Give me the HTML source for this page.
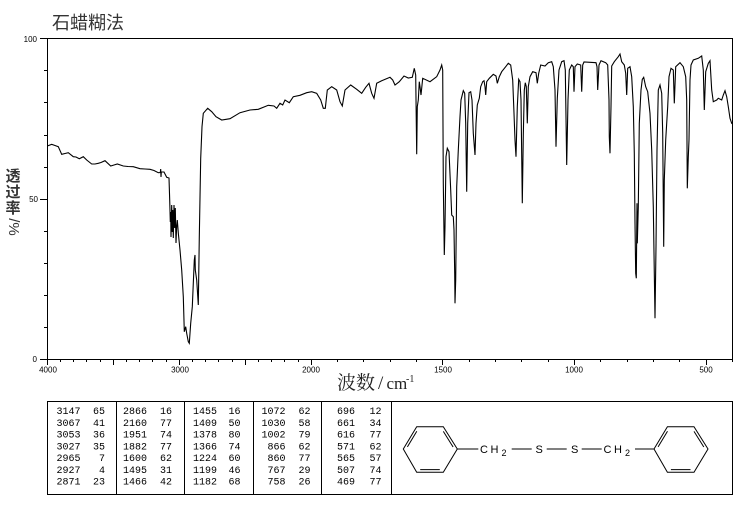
<!DOCTYPE html>
<html><head><meta charset="utf-8"><style>
html,body{margin:0;padding:0;background:#fff;}
body{position:relative;width:737px;height:510px;overflow:hidden;}
svg{display:block;position:absolute;left:0;top:0;}
.yt{position:absolute;left:4px;width:18px;height:16px;line-height:16px;text-align:center;font-family:"Noto Sans CJK SC","Liberation Sans",sans-serif;font-size:15px;font-weight:bold;color:#333;}
</style></head><body>
<svg width="737" height="510" viewBox="0 0 737 510" xmlns="http://www.w3.org/2000/svg">
<rect width="737" height="510" fill="#fff"/>
<text x="52" y="29" font-family="'Liberation Sans','Noto Sans CJK SC',sans-serif" font-size="18" fill="#333">石蜡糊法</text>

<rect x="47.5" y="38.5" width="685" height="321" fill="none" stroke="#000" stroke-width="1"/>

<g stroke="#000" stroke-width="1" shape-rendering="crispEdges">
<line x1="40" y1="38.5" x2="47.5" y2="38.5"/>
<line x1="44" y1="70.5" x2="47.5" y2="70.5"/>
<line x1="44" y1="102.5" x2="47.5" y2="102.5"/>
<line x1="44" y1="135.5" x2="47.5" y2="135.5"/>
<line x1="44" y1="167.5" x2="47.5" y2="167.5"/>
<line x1="40" y1="199.5" x2="47.5" y2="199.5"/>
<line x1="44" y1="231.5" x2="47.5" y2="231.5"/>
<line x1="44" y1="263.5" x2="47.5" y2="263.5"/>
<line x1="44" y1="295.5" x2="47.5" y2="295.5"/>
<line x1="44" y1="327.5" x2="47.5" y2="327.5"/>
<line x1="40" y1="359.5" x2="47.5" y2="359.5"/>
</g>
<g stroke="#000" stroke-width="1" shape-rendering="crispEdges">
<line x1="47.5" y1="359.5" x2="47.5" y2="365"/>
<line x1="60.5" y1="359.5" x2="60.5" y2="362"/>
<line x1="73.5" y1="359.5" x2="73.5" y2="362"/>
<line x1="86.5" y1="359.5" x2="86.5" y2="362"/>
<line x1="100.5" y1="359.5" x2="100.5" y2="362"/>
<line x1="113.5" y1="359.5" x2="113.5" y2="365"/>
<line x1="126.5" y1="359.5" x2="126.5" y2="362"/>
<line x1="139.5" y1="359.5" x2="139.5" y2="362"/>
<line x1="152.5" y1="359.5" x2="152.5" y2="362"/>
<line x1="166.5" y1="359.5" x2="166.5" y2="362"/>
<line x1="179.5" y1="359.5" x2="179.5" y2="365"/>
<line x1="192.5" y1="359.5" x2="192.5" y2="362"/>
<line x1="205.5" y1="359.5" x2="205.5" y2="362"/>
<line x1="218.5" y1="359.5" x2="218.5" y2="362"/>
<line x1="232.5" y1="359.5" x2="232.5" y2="362"/>
<line x1="245.5" y1="359.5" x2="245.5" y2="365"/>
<line x1="258.5" y1="359.5" x2="258.5" y2="362"/>
<line x1="271.5" y1="359.5" x2="271.5" y2="362"/>
<line x1="284.5" y1="359.5" x2="284.5" y2="362"/>
<line x1="298.5" y1="359.5" x2="298.5" y2="362"/>
<line x1="311.5" y1="359.5" x2="311.5" y2="365"/>
<line x1="337.5" y1="359.5" x2="337.5" y2="362"/>
<line x1="363.5" y1="359.5" x2="363.5" y2="362"/>
<line x1="390.5" y1="359.5" x2="390.5" y2="362"/>
<line x1="416.5" y1="359.5" x2="416.5" y2="362"/>
<line x1="442.5" y1="359.5" x2="442.5" y2="365"/>
<line x1="469.5" y1="359.5" x2="469.5" y2="362"/>
<line x1="495.5" y1="359.5" x2="495.5" y2="362"/>
<line x1="521.5" y1="359.5" x2="521.5" y2="362"/>
<line x1="548.5" y1="359.5" x2="548.5" y2="362"/>
<line x1="574.5" y1="359.5" x2="574.5" y2="365"/>
<line x1="600.5" y1="359.5" x2="600.5" y2="362"/>
<line x1="627.5" y1="359.5" x2="627.5" y2="362"/>
<line x1="653.5" y1="359.5" x2="653.5" y2="362"/>
<line x1="679.5" y1="359.5" x2="679.5" y2="362"/>
<line x1="706.5" y1="359.5" x2="706.5" y2="365"/>
<line x1="732.5" y1="359.5" x2="732.5" y2="362"/>
</g>

<g font-family="'Liberation Sans',sans-serif" font-size="8" fill="#000" text-anchor="end">
<text x="37" y="42">100</text>
<text x="38" y="202">50</text>
<text x="37" y="362">0</text>
</g>
<g font-family="'Liberation Sans',sans-serif" font-size="8" fill="#000" text-anchor="middle">
<text x="48" y="372.5">4000</text>
<text x="180" y="372.5">3000</text>
<text x="311" y="372.5">2000</text>
<text x="443" y="372.5">1500</text>
<text x="574" y="372.5">1000</text>
<text x="706" y="372.5">500</text>
</g>

<g fill="#222">
<text x="337" y="389" font-family="'Liberation Serif','Noto Serif CJK SC',serif" font-size="19">波数</text>
<text x="378" y="389" font-family="'Liberation Serif',serif" font-size="19">/</text>
<text x="386.5" y="389" font-family="'Liberation Serif',serif" font-size="17">cm</text>
<text x="406" y="382" font-family="'Liberation Serif',serif" font-size="10">-1</text>
</g>

<polyline fill="none" stroke="#000" stroke-width="1.1" stroke-linejoin="miter" points="47.3,146 51.7,144.3 55,145.5 58.3,146.7 61.7,154.3 65,153.5 68.3,152.7 73.3,156.7 76,157 79.3,158.7 83.3,156.7 86.7,160 91.7,164 95,164 98.3,163.3 101,162.5 105,160.7 110.7,166 114,165 117.3,164 123.3,166 128,166.5 133.3,166.7 140,168.7 145,169 150,169.3 154,170.5 158.3,172.7 160.3,172.5 160.7,169 161,177 161.3,172 164,172 166.7,177.3 169,178 169.7,200 170.3,222 170.7,212 171,237 171.7,205 172.3,232 172.7,210 173.3,238 174,205 174.7,228 175.3,208 176,243 176.7,226 177.3,220 178.3,233 180,250 181.7,270 183.3,296.7 184.3,331.7 185.7,326.7 186.7,333.3 188.3,341.7 189.3,343.3 190.7,323.3 192.3,306.7 193.3,283.3 194.3,260 195,255 195.3,270 196.7,280 198.3,305 199.3,236.7 200.7,158.3 202,126.7 203.3,113.3 207.7,108.3 211.7,111.7 216,116.7 221.7,120 230,118.7 240,112.7 250,110 258.3,109.3 268.3,105.3 274,106 276.7,108.3 280,103.3 282.7,105 285,100 289.3,102.7 293.3,96.7 300,95.3 306.7,92.7 311.7,91.7 316.7,93.3 320.7,100 323.3,108.3 325.3,108.3 327.3,90 331.7,86.7 336.7,90 340,101.7 342.3,106 345,90 350.7,85 356.7,89.3 361.7,93.3 365.7,87.3 369,83.3 371.7,93.3 374,98.3 376.7,83.3 381.7,80.7 390,77.3 392.7,80 395,85 399.3,81.7 404,76 408.3,78 412.3,77.3 414.3,68.3 415.7,75 416.7,154.3 417.3,106.7 418.3,100 419.3,81.7 420,86.7 421,95 422.7,78.3 430,81.7 436.7,76.7 440,70 441.7,65 442.7,70 443.3,183.3 444.3,255 445,226.7 446,156.7 447.3,148.3 449,151.7 450.7,190 451.7,215 453.3,216.7 454,230 454.7,273.3 455,303.3 455.7,280 456.7,186.7 458.3,150 460,116.7 461,100 463.3,90.7 464.7,93.3 465.7,123.3 466.7,191.7 467.7,123.3 469,92.7 470.7,91.7 472,100 473.3,133.3 475,155 476,123.3 477.3,105 479.3,98.3 480.7,86.7 482.7,81.7 484,80.7 485,86.7 485.7,95 486.7,81.7 489.3,78.3 493.3,74.3 496,76 497.3,83.3 499.3,76.7 501.7,71.7 505.7,66.7 508.3,63.3 510.7,65 512.7,80 514,113.3 515,140 516,156.7 517.3,106.7 518.7,79.3 520,81.7 521,100 522.3,203.3 523.3,135 524.3,90 525.3,82.7 526.3,86.7 527.3,123.3 528.3,86.7 530,76.7 532.7,71.7 536,72.7 537.3,83.3 538.7,73.3 540.7,65 545,66 548.3,62.7 551.7,61.7 553.3,66.7 555,90 556,146.7 557.3,98.3 559,70 561.7,61.7 564,60.7 565.3,70 566.7,165 568,100 569.3,70 571.7,65 573.3,66.7 574,91.7 575,66.7 577.3,64 580.7,65 581.7,91.7 582.7,65 584,62 596,62.7 597,66.7 597.7,90 599,65 601,60.7 605.7,62.7 607.7,65 609,100 609.3,136.7 610,153.3 611,106.7 611.7,66 614.3,61.7 618.3,56.7 620,54 621.7,61.7 624.3,65 625.7,73.3 626.7,95 627.7,68.3 630,66.7 631.7,76.7 633.3,106.7 634.3,153.3 635,223.3 635.7,273.3 636.3,278.3 637,203.3 637.3,243.3 638.3,206.7 639.3,123.3 641,90 642.3,79.3 643.7,77.3 645.7,86.7 647.7,91.7 650,113.3 651.7,150 653.3,206.7 654.3,273.3 655,318.3 656,246.7 657,150 658.3,90 660,85 661.7,93.3 662.7,133.3 663.7,246.7 664.3,180 665.7,140 667.7,106.7 669,76.7 671,68.3 673.3,70 674.3,103.3 675.7,66.7 680,62.7 683.3,66.7 685.7,76.7 686.7,100 687.3,188.3 688.3,156.7 689,140 690,80 691,65 693.3,60 698.3,58.3 701.7,56 703.3,70 704.3,110 705.7,71.7 708.3,63.3 710,60.7 711.7,90 713.3,101.7 716.7,100 718.3,98.3 721.7,100 723.3,95 725,90.7 726.7,96.7 728.3,106.7 730,118.3 731.7,123.3 732.5,124"/>

<g stroke="#000" stroke-width="1" fill="none" shape-rendering="crispEdges">
<rect x="47.5" y="401.5" width="685" height="93"/>
<line x1="116.5" y1="401.5" x2="116.5" y2="494.5"/>
<line x1="184.5" y1="401.5" x2="184.5" y2="494.5"/>
<line x1="253.5" y1="401.5" x2="253.5" y2="494.5"/>
<line x1="321.5" y1="401.5" x2="321.5" y2="494.5"/>
<line x1="391.5" y1="401.5" x2="391.5" y2="494.5"/>
</g>

<g font-family="'Liberation Mono',monospace" font-size="10" fill="#000" text-anchor="end">
<text x="80.5" y="414">3147</text><text x="105" y="414">65</text>
<text x="80.5" y="425.75">3067</text><text x="105" y="425.75">41</text>
<text x="80.5" y="437.5">3053</text><text x="105" y="437.5">36</text>
<text x="80.5" y="449.25">3027</text><text x="105" y="449.25">35</text>
<text x="80.5" y="461">2965</text><text x="105" y="461">7</text>
<text x="80.5" y="472.75">2927</text><text x="105" y="472.75">4</text>
<text x="80.5" y="484.5">2871</text><text x="105" y="484.5">23</text>
<text x="147" y="414">2866</text><text x="172" y="414">16</text>
<text x="147" y="425.75">2160</text><text x="172" y="425.75">77</text>
<text x="147" y="437.5">1951</text><text x="172" y="437.5">74</text>
<text x="147" y="449.25">1882</text><text x="172" y="449.25">77</text>
<text x="147" y="461">1600</text><text x="172" y="461">62</text>
<text x="147" y="472.75">1495</text><text x="172" y="472.75">31</text>
<text x="147" y="484.5">1466</text><text x="172" y="484.5">42</text>
<text x="217" y="414">1455</text><text x="240.5" y="414">16</text>
<text x="217" y="425.75">1409</text><text x="240.5" y="425.75">50</text>
<text x="217" y="437.5">1378</text><text x="240.5" y="437.5">80</text>
<text x="217" y="449.25">1366</text><text x="240.5" y="449.25">74</text>
<text x="217" y="461">1224</text><text x="240.5" y="461">60</text>
<text x="217" y="472.75">1199</text><text x="240.5" y="472.75">46</text>
<text x="217" y="484.5">1182</text><text x="240.5" y="484.5">68</text>
<text x="285.5" y="414">1072</text><text x="310.5" y="414">62</text>
<text x="285.5" y="425.75">1030</text><text x="310.5" y="425.75">58</text>
<text x="285.5" y="437.5">1002</text><text x="310.5" y="437.5">79</text>
<text x="285.5" y="449.25">866</text><text x="310.5" y="449.25">62</text>
<text x="285.5" y="461">860</text><text x="310.5" y="461">77</text>
<text x="285.5" y="472.75">767</text><text x="310.5" y="472.75">29</text>
<text x="285.5" y="484.5">758</text><text x="310.5" y="484.5">26</text>
<text x="355" y="414">696</text><text x="381.5" y="414">12</text>
<text x="355" y="425.75">661</text><text x="381.5" y="425.75">34</text>
<text x="355" y="437.5">616</text><text x="381.5" y="437.5">77</text>
<text x="355" y="449.25">571</text><text x="381.5" y="449.25">62</text>
<text x="355" y="461">565</text><text x="381.5" y="461">57</text>
<text x="355" y="472.75">507</text><text x="381.5" y="472.75">74</text>
<text x="355" y="484.5">469</text><text x="381.5" y="484.5">77</text>
</g>

<g stroke="#000" stroke-width="1" fill="none">
<g>
<polygon points="403.3,449 416.7,426.7 443.3,426.7 457.3,449 443.3,472.3 416.7,472.3"/>
<line x1="407.4" y1="446.9" x2="416.8" y2="431.3"/>
<line x1="443.3" y1="431.4" x2="453.1" y2="447"/>
<line x1="420.2" y1="469.6" x2="439.8" y2="469.6"/>
</g>
<g transform="translate(250.7,0)">
<polygon points="403.3,449 416.7,426.7 443.3,426.7 457.3,449 443.3,472.3 416.7,472.3"/>
<line x1="407.4" y1="446.9" x2="416.8" y2="431.3"/>
<line x1="443.3" y1="431.4" x2="453.1" y2="447"/>
<line x1="420.2" y1="469.6" x2="439.8" y2="469.6"/>
</g>
<line x1="457.3" y1="449" x2="478.3" y2="449"/>
<line x1="511.7" y1="449" x2="531.7" y2="449"/>
<line x1="546.7" y1="449" x2="566.7" y2="449"/>
<line x1="581.7" y1="449" x2="601.7" y2="449"/>
<line x1="635" y1="449" x2="654" y2="449"/>
</g>
<g font-family="'Liberation Sans',sans-serif" font-size="11" fill="#000">
<text x="480" y="453">C</text><text x="490.5" y="453">H</text><text x="501.5" y="456" font-size="9">2</text>
<text x="535.5" y="453">S</text>
<text x="571" y="453">S</text>
<text x="603.5" y="453">C</text><text x="614" y="453">H</text><text x="625" y="456" font-size="9">2</text>
</g>
</svg>
<div class="yt" style="top:168px;">透</div>
<div class="yt" style="top:184px;">过</div>
<div class="yt" style="top:200px;">率</div>
<div class="yt" style="top:219px;transform:rotate(90deg);font-family:'Liberation Sans',sans-serif;font-weight:normal;">/%</div>
</body></html>
